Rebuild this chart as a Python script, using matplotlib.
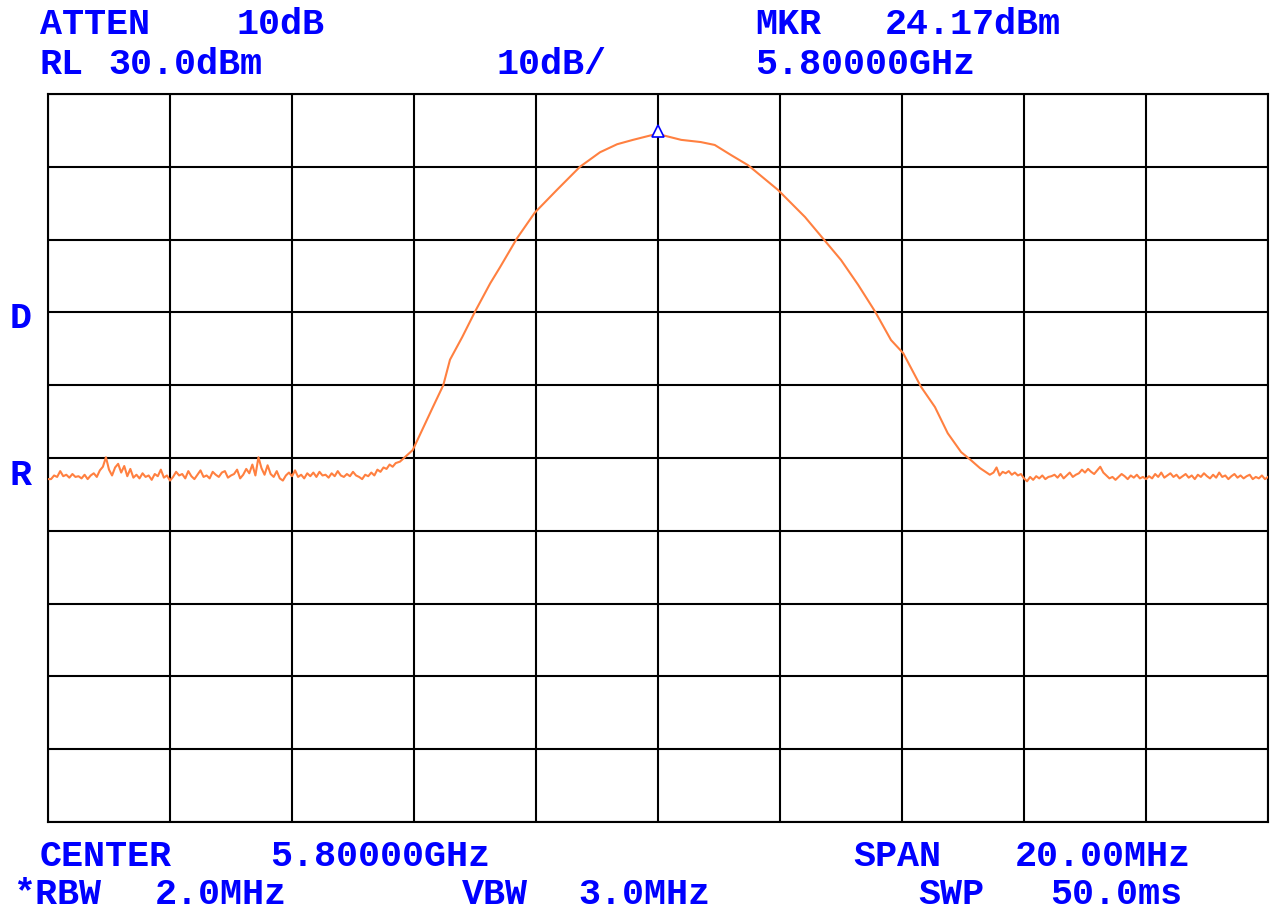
import numpy as np
import matplotlib
matplotlib.use("Agg")
import matplotlib.pyplot as plt
import matplotlib.transforms as mtransforms

# Analyzer settings
CENTER_GHZ = 5.8
SPAN_MHZ = 20.0
REF_LEVEL_DBM = 30.0
DB_PER_DIV = 10.0
MARKER_DBM = 24.17

# Noise floor left of the signal, -10.00 .. -4.30 MHz in 0.05 MHz steps
noise_left_dbm = [
    -22.9, -22.9, -22.4, -22.6, -21.8, -22.5, -22.3, -22.7, -22.2, -22.6,
    -22.5, -22.8, -22.3, -22.9, -22.4, -22.1, -22.6, -21.7, -21.2, -19.9,
    -21.6, -22.4, -21.3, -20.8, -22.0, -21.1, -22.5, -21.5, -22.7, -22.3,
    -22.8, -22.1, -22.6, -22.4, -23.0, -22.2, -22.5, -21.6, -22.7, -22.4,
    -23.1, -22.6, -21.9, -22.4, -22.2, -22.8, -21.8, -22.5, -22.9, -22.3,
    -21.7, -22.6, -22.4, -22.8, -21.9, -22.3, -22.6, -22.0, -21.8, -22.7,
    -22.4, -22.2, -21.6, -22.8, -22.3, -21.5, -22.1, -20.9, -22.4, -19.9,
    -21.4, -22.3, -21.0, -22.2, -22.6, -21.8, -22.8, -23.1, -22.4, -22.0,
    -22.5, -21.7, -22.6, -22.3, -22.8, -22.1, -22.5, -22.0, -22.6, -21.9,
    -22.4, -22.3, -22.7, -22.1, -22.5, -21.8, -22.4, -22.6, -22.2, -22.5,
    -21.9, -22.4, -22.6, -22.9, -22.3, -22.5, -22.0, -22.4, -21.6, -21.9,
    -21.3, -21.5, -20.9, -21.2, -20.7,
]

# Main lobe, read point by point
lobe_mhz = [
    -4.23, -4.02, -3.69, -3.52, -3.41, -3.21, -3.00, -2.75, -2.59, -2.31,
    -2.02, -1.66, -1.28, -0.95, -0.67, -0.41, -0.08, 0.00, 0.38, 0.70,
    0.93, 1.20, 1.48, 1.97, 2.41, 2.70, 3.00, 3.28, 3.56, 3.82,
    4.02, 4.31, 4.54, 4.75, 4.97, 5.13, 5.28, 5.44,
]
lobe_dbm = [
    -20.5, -18.9, -13.0, -10.0, -6.5, -3.4, 0.1, 4.0, 6.2, 10.2,
    13.7, 16.8, 20.0, 22.0, 23.1, 23.7, 24.4, 24.5, 23.7, 23.4,
    23.0, 21.6, 20.2, 16.8, 13.1, 10.2, 7.2, 3.8, 0.1, -3.8,
    -5.6, -10.2, -13.0, -16.6, -19.2, -20.3, -21.4, -22.3,
]

# Noise floor right of the signal, 5.50 .. 10.00 MHz in 0.05 MHz steps
noise_right_dbm = [
    -22.0, -21.3, -22.4, -21.9, -22.1, -21.8, -22.3, -22.0, -22.4, -22.2,
    -22.8, -23.2, -22.6, -23.0, -22.5, -22.8, -22.4, -22.9, -22.6, -22.5,
    -22.3, -22.7, -22.2, -22.8, -22.4, -22.0, -22.6, -22.3, -22.1, -21.6,
    -22.0, -21.5, -21.9, -22.2, -21.7, -21.2, -22.0, -22.4, -22.8, -22.6,
    -23.0, -22.6, -22.2, -22.5, -22.9, -22.4, -22.7, -22.3, -22.8, -22.6,
    -22.9, -22.5, -22.8, -22.2, -22.6, -22.0, -22.7, -22.4, -22.1, -22.6,
    -22.3, -22.8, -22.5, -22.2, -22.7, -22.4, -22.9, -22.3, -22.6, -22.1,
    -22.5, -22.8, -22.3, -22.7, -22.0, -22.6, -22.4, -22.9, -22.5, -22.2,
    -22.7, -22.4, -22.8, -22.5, -22.3, -22.9, -22.6, -22.8, -22.4, -22.9,
    -22.6,
]

# Screen annotations: (text, x in figure px, y in figure px from top)
top_labels = [
    ("ATTEN", 40, 25), ("10dB", 237, 25),
    ("MKR", 755, 25), ("24.17dBm", 885, 25),
    ("RL", 40, 65), ("30.0dBm", 108, 65), ("10dB/", 497, 65),
    ("5.80000GHz", 755, 65),
]
bottom_labels = [
    ("CENTER", 40, 857), ("5.80000GHz", 270, 857),
    ("SPAN", 853, 857), ("20.00MHz", 1015, 857),
    ("*RBW", 13, 895), ("2.0MHz", 155, 895), ("VBW", 462, 895),
    ("3.0MHz", 578, 895), ("SWP", 918, 895), ("50.0ms", 1050, 895),
]
side_labels = [("D", 10, 318), ("R", 10, 475)]

W, H = 1274, 914
BLUE = "#0000ff"
TRACE = "#ff8040"

fig = plt.figure(figsize=(W / 100, H / 100), dpi=100)
ax = fig.add_axes([48 / W, 92 / H, 1220 / W, 728 / H])

half = SPAN_MHZ / 2
bottom = REF_LEVEL_DBM - 10 * DB_PER_DIV
ax.set_xlim(-half, half)
ax.set_ylim(bottom, REF_LEVEL_DBM)

freq_left = np.linspace(-10.0, -4.30, len(noise_left_dbm))
freq_right = np.linspace(5.50, 10.0, len(noise_right_dbm))
freq = np.concatenate([freq_left, lobe_mhz, freq_right])
level = np.concatenate([noise_left_dbm, lobe_dbm, noise_right_dbm])

# grid 10x10
for gx in np.linspace(-half, half, 11):
    ax.axvline(gx, color="black", lw=1.5, zorder=1)
for gy in np.linspace(bottom, REF_LEVEL_DBM, 11):
    ax.axhline(gy, color="black", lw=1.5, zorder=1)

ax.plot(freq, level, color=TRACE, lw=1.5, zorder=3)

# marker triangle just above the peak
mk_tr = mtransforms.offset_copy(ax.transData, fig=fig, y=5, units="dots")
ax.plot([0.0], [MARKER_DBM], marker="^", ms=8, mfc="white", mec=BLUE,
        mew=1.2, transform=mk_tr, zorder=4)

ax.set_xticks([])
ax.set_yticks([])
for s in ax.spines.values():
    s.set_linewidth(1.5)
    s.set_color("black")

font = dict(family=["Liberation Mono", "DejaVu Sans Mono"], fontsize=26.5,
            color=BLUE, va="center", ha="left", fontweight="bold")
for txt, x, y in top_labels + bottom_labels + side_labels:
    fig.text(x / W, 1 - y / H, txt, **font)

fig.savefig("out.png", dpi=100)
